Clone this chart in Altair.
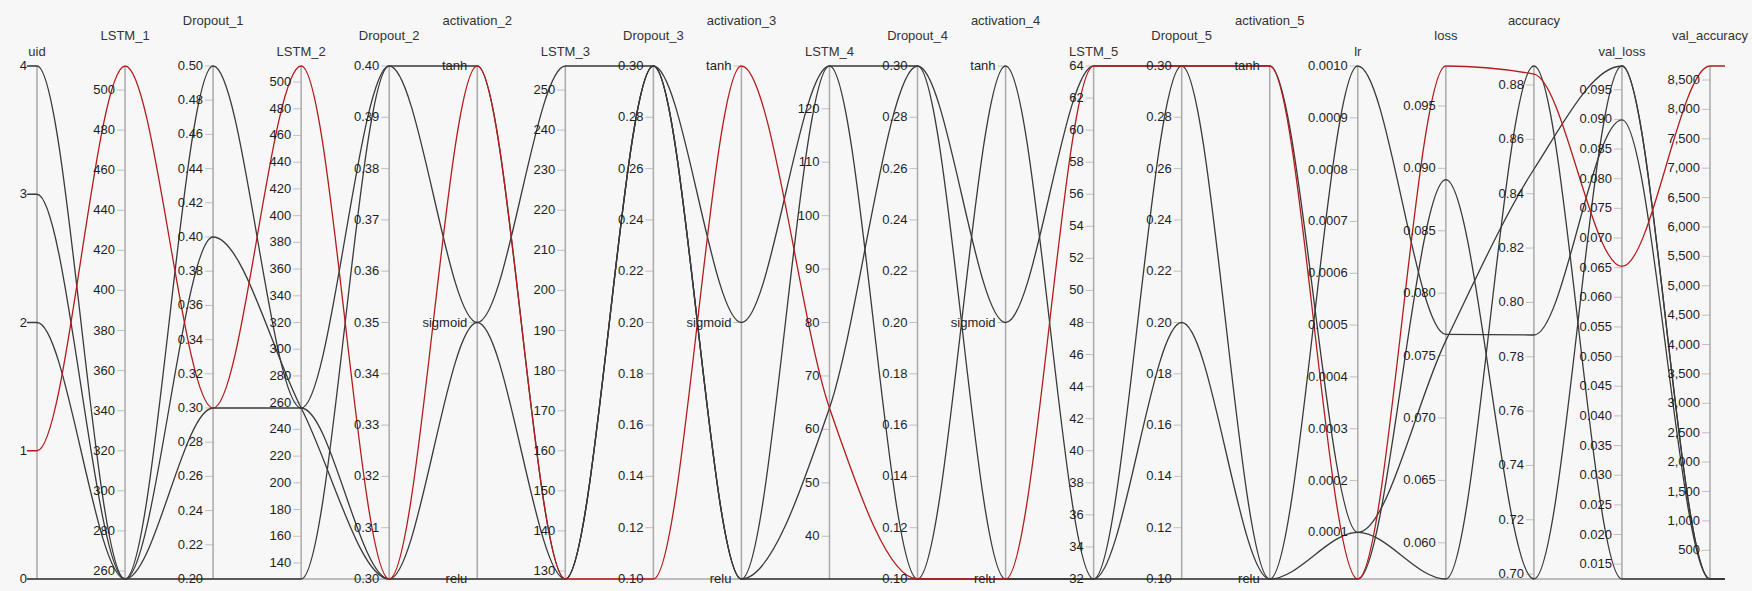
import altair as alt
import pandas as pd

# ---------------- data ----------------
AXES = ["uid", "LSTM_1", "Dropout_1", "LSTM_2", "Dropout_2", "activation_2",
        "LSTM_3", "Dropout_3", "activation_3", "LSTM_4", "Dropout_4", "activation_4",
        "LSTM_5", "Dropout_5", "activation_5", "lr", "loss", "accuracy",
        "val_loss", "val_accuracy"]
CATEGORIES = ["relu", "sigmoid", "tanh"]

uid = [0, 1, 2, 3, 4]
LSTM_1 = [256, 512, 256, 256, 256]
Dropout_1 = [0.2, 0.3, 0.5, 0.4, 0.3]
LSTM_2 = [128, 512, 256, 256, 256]
Dropout_2 = [0.4, 0.3, 0.4, 0.3, 0.3]
activation_2 = ["tanh", "tanh", "sigmoid", "sigmoid", "relu"]
LSTM_3 = [128, 128, 256, 128, 128]
Dropout_3 = [0.3, 0.1, 0.3, 0.3, 0.3]
activation_3 = ["relu", "tanh", "sigmoid", "relu", "relu"]
LSTM_4 = [128, 64, 128, 64, 32]
Dropout_4 = [0.1, 0.1, 0.3, 0.3, 0.1]
activation_4 = ["tanh", "relu", "sigmoid", "relu", "relu"]
LSTM_5 = [32, 64, 64, 32, 32]
Dropout_5 = [0.3, 0.3, 0.3, 0.2, 0.1]
activation_5 = ["relu", "tanh", "tanh", "relu", "relu"]
lr = [0.001, 0.00001, 0.0001, 0.0001, 0.00001]
loss = [0.0767, 0.0982, 0.0762, 0.0571, 0.0891]
accuracy = [0.788, 0.884, 0.849, 0.887, 0.6982]
val_loss = [0.0899, 0.0652, 0.0990, 0.0125, 0.0990]
val_accuracy = [12, 8738, 12, 12, 12]

HIGHLIGHT_UID = 1

uid_ticks = ["0", "1", "2", "3", "4"]
LSTM_1_ticks = ["260", "280", "300", "320", "340", "360", "380", "400", "420", "440",
                "460", "480", "500"]
Dropout_1_ticks = ["0.20", "0.22", "0.24", "0.26", "0.28", "0.30", "0.32", "0.34",
                   "0.36", "0.38", "0.40", "0.42", "0.44", "0.46", "0.48", "0.50"]
LSTM_2_ticks = ["140", "160", "180", "200", "220", "240", "260", "280", "300", "320",
                "340", "360", "380", "400", "420", "440", "460", "480", "500"]
Dropout_2_ticks = ["0.30", "0.31", "0.32", "0.33", "0.34", "0.35", "0.36", "0.37",
                   "0.38", "0.39", "0.40"]
LSTM_3_ticks = ["130", "140", "150", "160", "170", "180", "190", "200", "210", "220",
                "230", "240", "250"]
Dropout_3_ticks = ["0.10", "0.12", "0.14", "0.16", "0.18", "0.20", "0.22", "0.24",
                   "0.26", "0.28", "0.30"]
LSTM_4_ticks = ["40", "50", "60", "70", "80", "90", "100", "110", "120"]
Dropout_4_ticks = ["0.10", "0.12", "0.14", "0.16", "0.18", "0.20", "0.22", "0.24",
                   "0.26", "0.28", "0.30"]
LSTM_5_ticks = ["32", "34", "36", "38", "40", "42", "44", "46", "48", "50", "52", "54",
                "56", "58", "60", "62", "64"]
Dropout_5_ticks = ["0.10", "0.12", "0.14", "0.16", "0.18", "0.20", "0.22", "0.24",
                   "0.26", "0.28", "0.30"]
lr_ticks = ["0.0001", "0.0002", "0.0003", "0.0004", "0.0005", "0.0006", "0.0007",
            "0.0008", "0.0009", "0.0010"]
loss_ticks = ["0.060", "0.065", "0.070", "0.075", "0.080", "0.085", "0.090", "0.095"]
accuracy_ticks = ["0.70", "0.72", "0.74", "0.76", "0.78", "0.80", "0.82", "0.84",
                  "0.86", "0.88"]
val_loss_ticks = ["0.015", "0.020", "0.025", "0.030", "0.035", "0.040", "0.045",
                  "0.050", "0.055", "0.060", "0.065", "0.070", "0.075", "0.080",
                  "0.085", "0.090", "0.095"]
val_accuracy_ticks = ["500", "1,000", "1,500", "2,000", "2,500", "3,000", "3,500",
                      "4,000", "4,500", "5,000", "5,500", "6,000", "6,500", "7,000",
                      "7,500", "8,000", "8,500"]

# ---------------- tables ----------------
columns = [uid, LSTM_1, Dropout_1, LSTM_2, Dropout_2, activation_2, LSTM_3, Dropout_3,
           activation_3, LSTM_4, Dropout_4, activation_4, LSTM_5, Dropout_5,
           activation_5, lr, loss, accuracy, val_loss, val_accuracy]
tick_lists = [uid_ticks, LSTM_1_ticks, Dropout_1_ticks, LSTM_2_ticks, Dropout_2_ticks,
              None, LSTM_3_ticks, Dropout_3_ticks, None, LSTM_4_ticks, Dropout_4_ticks,
              None, LSTM_5_ticks, Dropout_5_ticks, None, lr_ticks, loss_ticks,
              accuracy_ticks, val_loss_ticks, val_accuracy_ticks]

line_rows, tick_rows, title_rows = [], [], []
n_axes = len(AXES)
for i, (name, col, ticks) in enumerate(zip(AXES, columns, tick_lists)):
    title_rows.append({"pos": i, "title": name, "level": i % 3, "top": 1.0})
    if isinstance(col[0], str):
        present = [c for c in CATEGORIES if c in col]
        rank = {c: k for k, c in enumerate(present)}
        span = max(len(present) - 1, 1)
        norms = [rank[v] / span for v in col]
        for c in present:
            tick_rows.append({"pos": i, "norm": rank[c] / span, "label": c})
    else:
        lo, hi = min(col), max(col)
        norms = [(v - lo) / (hi - lo) for v in col]
        for t in ticks:
            val = float(t.replace(",", ""))
            tick_rows.append({"pos": i, "norm": (val - lo) / (hi - lo), "label": t})
    for u, nv in zip(uid, norms):
        line_rows.append({"uid": u, "pos": i, "norm": nv})

# short horizontal run-outs before the first and after the last axis
LEFT_RUN, RIGHT_RUN = -0.115, n_axes - 1 + 0.17
first = {r["uid"]: r["norm"] for r in line_rows if r["pos"] == 0}
last = {r["uid"]: r["norm"] for r in line_rows if r["pos"] == n_axes - 1}
for u in uid:
    line_rows.append({"uid": u, "pos": LEFT_RUN, "norm": first[u]})
    line_rows.append({"uid": u, "pos": RIGHT_RUN, "norm": last[u]})

lines_df = pd.DataFrame(line_rows)
ticks_df = pd.DataFrame(tick_rows)
titles_df = pd.DataFrame(title_rows)
axes_df = pd.DataFrame({"pos": list(range(n_axes)), "lo": 0.0, "hi": 1.0})
base_df = pd.DataFrame({"x0": [LEFT_RUN], "x1": [RIGHT_RUN], "y0": [0.0]})

# ---------------- chart ----------------
W, H = 1673, 513
xs = alt.Scale(domain=[0, n_axes - 1], nice=False, zero=False)
ys = alt.Scale(domain=[0, 1], nice=False, zero=False)
FONT = "Liberation Sans"
AXIS_GRAY = "#a9a9a9"

baseline = alt.Chart(base_df).mark_rule(color=AXIS_GRAY, strokeWidth=1.5).encode(
    x=alt.X("x0:Q", scale=xs, axis=None), x2="x1:Q",
    y=alt.Y("y0:Q", scale=ys, axis=None),
)

axis_lines = alt.Chart(axes_df).mark_rule(color=AXIS_GRAY, strokeWidth=1.5).encode(
    x=alt.X("pos:Q", scale=xs, axis=None),
    y=alt.Y("lo:Q", scale=ys, axis=None),
    y2="hi:Q",
)

tick_marks = alt.Chart(ticks_df).mark_tick(
    orient="horizontal", size=8, thickness=1, xOffset=-4, color=AXIS_GRAY
).encode(
    x=alt.X("pos:Q", scale=xs, axis=None),
    y=alt.Y("norm:Q", scale=ys, axis=None),
)

black_lines = alt.Chart(lines_df).transform_filter(
    alt.datum.uid != HIGHLIGHT_UID
).mark_line(interpolate="monotone", color="#3a3a3a", strokeWidth=1.3).encode(
    x=alt.X("pos:Q", scale=xs, axis=None),
    y=alt.Y("norm:Q", scale=ys, axis=None),
    detail="uid:N",
)
red_line = alt.Chart(lines_df).transform_filter(
    alt.datum.uid == HIGHLIGHT_UID
).mark_line(interpolate="monotone", color="#b51c1c", strokeWidth=1.3).encode(
    x=alt.X("pos:Q", scale=xs, axis=None),
    y=alt.Y("norm:Q", scale=ys, axis=None),
    detail="uid:N",
)

tick_labels = alt.Chart(ticks_df).mark_text(
    align="right", baseline="middle", dx=-10, font=FONT, fontSize=13, color="#1e1e1e"
).encode(
    x=alt.X("pos:Q", scale=xs, axis=None),
    y=alt.Y("norm:Q", scale=ys, axis=None),
    text="label:N",
)

title_layers = []
for level, dy in [(0, -14), (1, -30), (2, -45)]:
    title_layers.append(
        alt.Chart(titles_df).transform_filter(alt.datum.level == level).mark_text(
            align="center", baseline="middle", dy=dy, font=FONT, fontSize=13,
            color="#333333"
        ).encode(
            x=alt.X("pos:Q", scale=xs, axis=None),
            y=alt.Y("top:Q", scale=ys, axis=None),
            text="title:N",
        )
    )

chart = alt.layer(
    baseline, axis_lines, tick_marks, black_lines, red_line, tick_labels, *title_layers
).properties(
    width=W, height=H,
    autosize=alt.AutoSizeParams(type="none"),
    padding={"left": 37, "top": 66, "right": 42, "bottom": 12},
    background="#f7f7f7",
).configure_view(stroke=None)

chart.save("out.html", embed_options={"renderer": "svg", "actions": False})
